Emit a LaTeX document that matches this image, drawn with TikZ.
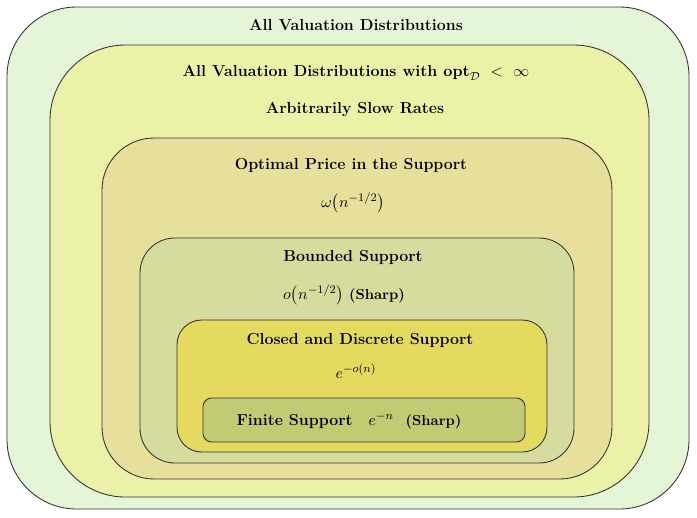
\documentclass[tikz,border=0pt]{standalone}
\usepackage{amsmath, amssymb}
\usetikzlibrary{positioning}
\definecolor{allc}{HTML}{E5F5D8}
\definecolor{finc}{HTML}{EBF2A8}
\definecolor{optc}{HTML}{E7E09D}
\definecolor{bndc}{HTML}{D5DC9D}
\definecolor{disc}{HTML}{E3DA5F}
\definecolor{fsc}{HTML}{C3CA74}
\begin{document}
\begin{tikzpicture}[
       x = 0.69pt, y = -0.69pt,
  region/.style = {draw=black!80, line width=0.6pt},
     title/.style = {font=\fontsize{11}{13}\selectfont\bfseries, inner sep=1pt},
     rate/.style = {font=\fontsize{11}{13}\selectfont, inner sep=1pt}
                        ]
\useasboundingbox (0,0) rectangle (697,517);
% nested regions
\draw[region, fill=allc, rounded corners=48pt] (7,7) rectangle (689,509);
\draw[region, fill=finc, rounded corners=52pt] (50,45) rectangle (649,497);
\draw[region, fill=optc, rounded corners=36pt] (102,138) rectangle (612,479);
\draw[region, fill=bndc, rounded corners=24pt] (140,238) rectangle (574,463);
\draw[region, fill=disc, rounded corners=17pt] (177,320) rectangle (547,452);
\draw[region, fill=fsc, rounded corners=6pt] (203,398) rectangle (525,442);
% labels
\node (all)  [title] at (356,25) {All Valuation Distributions};
\node (fin)  [title] at (356,73) {All Valuation Distributions with $\mathbf{opt}_{\mathcal{D}}\ <\ \infty$};
\node (slow) [title] at (355,110) {Arbitrarily Slow Rates};
\node (opt)  [title] at (351,165) {Optimal Price in the Support};
\node (optr) [rate]  at (353,203) {$\omega\bigl(n^{-1/2}\bigr)$};
\node (bnd)  [title] at (353,257) {Bounded Support};
\node (bndr) [rate]  at (344,295) {$o\bigl(n^{-1/2}\bigr)$ {\normalsize\bfseries(Sharp)}};
\node (dis)  [title] at (360,340) {Closed and Discrete Support};
\node (disr) [rate]  at (356,371) {$e^{-o(n)}$};
\node (fs)   [title] at (349,421) {Finite Support\quad $e^{-n}$\ \ {\normalsize(Sharp)}};
\end{tikzpicture}
\end{document}
